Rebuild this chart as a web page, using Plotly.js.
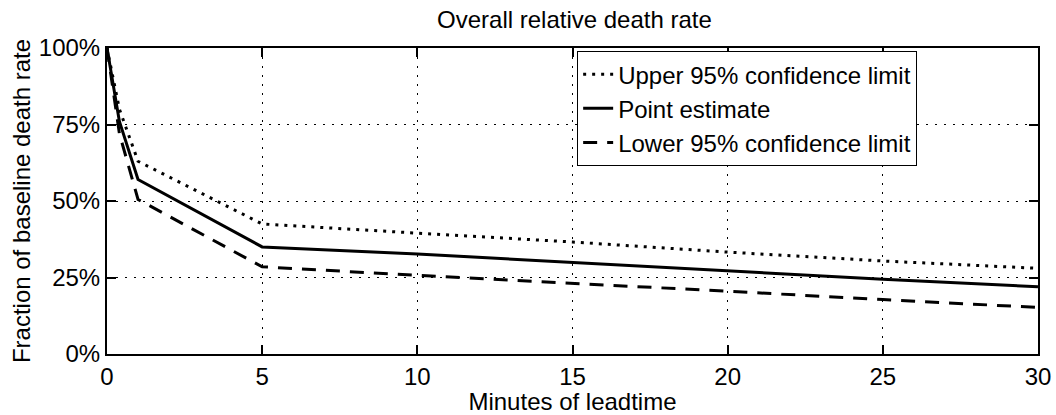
<!DOCTYPE html>
<html>
<head>
<meta charset="utf-8">
<script src="https://cdn.plot.ly/plotly-3.0.1.min.js"></script>
<style>html,body{margin:0;padding:0;background:#fff;}#chart{width:1056px;height:415px;}</style>
</head>
<body>
<div id="chart"></div>
<script>
const minutes = [0, 0.4, 1, 5, 10, 15, 20, 25, 30];
const upperLimit = [100, 80, 63, 42.5, 39.5, 36.6, 33.3, 30.4, 28];
const pointEstimate = [100, 76, 57, 35, 32.7, 30, 27.3, 24.4, 22];
const lowerLimit = [100, 72, 50.5, 28.5, 25.7, 23.2, 20.5, 17.8, 15.2];
const seriesNames = ['Upper 95% confidence limit', 'Point estimate', 'Lower 95% confidence limit'];
const yTicks = [0, 25, 50, 75, 100];
const xTicks = [0, 5, 10, 15, 20, 25, 30];

const FONT = 'Liberation Sans, Arial, Helvetica, sans-serif';

const traces = [
  {x: minutes, y: upperLimit, name: seriesNames[0], mode: 'lines',
   line: {color: '#000', width: 3, dash: '3px,6px'}},
  {x: minutes, y: pointEstimate, name: seriesNames[1], mode: 'lines',
   line: {color: '#000', width: 3, dash: 'solid'}},
  {x: minutes, y: lowerLimit, name: seriesNames[2], mode: 'lines',
   line: {color: '#000', width: 3, dash: '14px,10px'}}
];

const layout = {
  width: 1056, height: 415,
  margin: {l: 107, r: 18, t: 48, b: 61, pad: 0},
  paper_bgcolor: '#fff', plot_bgcolor: '#fff',
  font: {family: FONT, size: 24, color: '#000'},
  title: {text: 'Overall relative death rate', font: {family: FONT, size: 24, color: '#000'},
          x: 0.544, xanchor: 'center', y: 0.953, yanchor: 'middle'},
  showlegend: true,
  legend: {x: 0.505, xanchor: 'left', y: 0.99, yanchor: 'top',
           bgcolor: '#fff', bordercolor: '#000', borderwidth: 1,
           font: {family: FONT, size: 24, color: '#000'},
           tracegroupgap: 0, itemwidth: 30},
  xaxis: {range: [0, 30], tickvals: xTicks, ticktext: xTicks.map(String),
          showgrid: true, gridcolor: '#000', gridwidth: 1, griddash: '2px,7px',
          showline: true, linecolor: '#000', linewidth: 2, mirror: 'ticks',
          ticks: 'inside', ticklen: 9, tickwidth: 2, tickcolor: '#000',
          zeroline: false, tickfont: {family: FONT, size: 24},
          title: {text: 'Minutes of leadtime', font: {family: FONT, size: 24}, standoff: 0}},
  yaxis: {range: [0, 100], tickvals: yTicks, ticktext: yTicks.map(v => v + '%'),
          showgrid: true, gridcolor: '#000', gridwidth: 1, griddash: '2px,7px',
          showline: true, linecolor: '#000', linewidth: 2, mirror: 'ticks',
          ticks: 'inside', ticklen: 9, tickwidth: 2, tickcolor: '#000',
          zeroline: false, tickfont: {family: FONT, size: 24},
          title: {text: 'Fraction of baseline death rate', font: {family: FONT, size: 24}, standoff: 1}}
};

Plotly.newPlot('chart', traces, layout, {staticPlot: true, displayModeBar: false});
</script>
</body>
</html>
